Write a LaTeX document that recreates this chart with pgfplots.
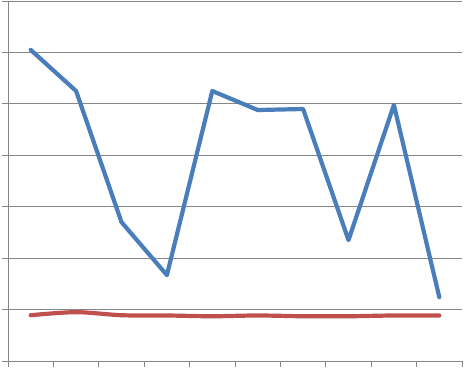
\documentclass[border=0pt]{standalone}
\usepackage{pgfplots}
\pgfplotsset{compat=1.18}
\definecolor{xlblue}{RGB}{74,126,187}
\definecolor{xlred}{RGB}{192,80,77}
\definecolor{grd}{RGB}{134,134,134}
\begin{document}
\begin{tikzpicture}
\useasboundingbox (-8pt,-8pt) rectangle (457pt,361pt);
\begin{axis}[
  at={(0,0)}, anchor=south west,
  scale only axis, width=454pt, height=360pt,
  xmin=0.5, xmax=10.5, ymin=0, ymax=7,
  axis x line=bottom, axis y line=left,
  axis line style={grd, line width=0.9pt, -},
  xtick={0.5,1.5,...,10.5}, ytick={0,1,...,7},
  xticklabels={}, yticklabels={},
  tick style={grd, line width=0.9pt},
  major tick length=6pt,
  tick align=outside,
  ymajorgrids, grid style={grd, line width=0.9pt},
  clip=false,
]
\addplot[xlblue, line width=4.2pt, line join=round, line cap=round] coordinates {
(1,6.05) (2,5.25) (3,2.70) (4,1.67) (5,5.25) (6,4.88) (7,4.90) (8,2.35) (9,4.98) (10,1.24)};
\addplot[xlred, line width=4.2pt, smooth, line cap=round] coordinates {
(1,0.89) (2,0.95) (3,0.89) (4,0.885) (5,0.87) (6,0.885) (7,0.87) (8,0.87) (9,0.885) (10,0.885)};
\end{axis}
\end{tikzpicture}
\end{document}
